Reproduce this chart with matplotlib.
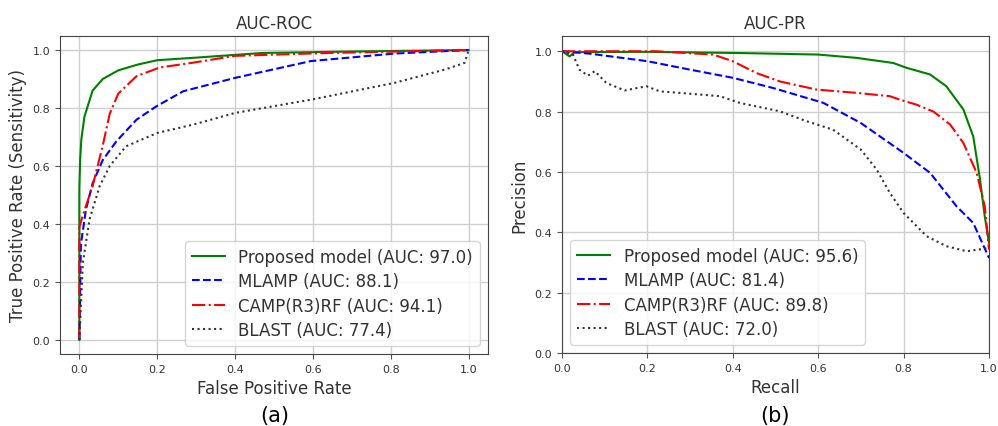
import matplotlib
matplotlib.use("Agg")
import matplotlib.pyplot as plt

# ---------------------------------------------------------------------------
# Data
# ---------------------------------------------------------------------------
LEGEND_ROC = ["Proposed model (AUC: 97.0)", "MLAMP (AUC: 88.1)",
              "CAMP(R3)RF (AUC: 94.1)", "BLAST (AUC: 77.4)"]
LEGEND_PR = ["Proposed model (AUC: 95.6)", "MLAMP (AUC: 81.4)",
             "CAMP(R3)RF (AUC: 89.8)", "BLAST (AUC: 72.0)"]

# ROC curves: false positive rate / true positive rate
roc_prop_fpr = [0.0, 0.0, 0.002, 0.005, 0.013, 0.034, 0.06, 0.10, 0.15, 0.20, 0.29, 0.47, 0.7, 1.0]
roc_prop_tpr = [0.0, 0.52, 0.62, 0.69, 0.77, 0.86, 0.90, 0.93, 0.95, 0.965, 0.973, 0.99, 0.995, 1.0]

roc_mlamp_fpr = [0.0, 0.004, 0.017, 0.034, 0.06, 0.095, 0.147, 0.198, 0.267, 0.40, 0.595, 0.81, 1.0]
roc_mlamp_tpr = [0.0, 0.33, 0.45, 0.54, 0.62, 0.685, 0.76, 0.806, 0.858, 0.904, 0.962, 0.988, 1.0]

roc_camp_fpr = [0.0, 0.0, 0.009, 0.034, 0.06, 0.078, 0.10, 0.147, 0.207, 0.29, 0.40, 0.64, 1.0]
roc_camp_tpr = [0.0, 0.39, 0.43, 0.53, 0.67, 0.78, 0.85, 0.91, 0.94, 0.956, 0.98, 0.99, 1.0]

roc_blast_fpr = [0.0, 0.009, 0.026, 0.052, 0.078, 0.12, 0.20, 0.293, 0.40, 0.60, 0.81, 0.94, 0.99, 1.0]
roc_blast_tpr = [0.0, 0.265, 0.415, 0.53, 0.60, 0.668, 0.714, 0.743, 0.783, 0.83, 0.887, 0.933, 0.956, 1.0]

# PR curves: recall / precision
pr_prop_rec = [0.0, 0.018, 0.03, 0.2, 0.42, 0.6, 0.69, 0.776, 0.807, 0.862, 0.90, 0.94, 0.963, 0.979, 0.99, 1.0]
pr_prop_pre = [1.0, 0.983, 0.997, 0.998, 0.994, 0.989, 0.978, 0.961, 0.945, 0.923, 0.884, 0.807, 0.718, 0.575, 0.453, 0.365]

pr_mlamp_rec = [0.0, 0.065, 0.2, 0.30, 0.40, 0.495, 0.612, 0.70, 0.80, 0.862, 0.924, 0.963, 1.0]
pr_mlamp_pre = [1.0, 0.992, 0.967, 0.939, 0.912, 0.878, 0.829, 0.762, 0.663, 0.597, 0.486, 0.431, 0.315]

pr_camp_rec = [0.0, 0.22, 0.354, 0.40, 0.455, 0.51, 0.596, 0.69, 0.768, 0.79, 0.83, 0.87, 0.909, 0.94, 0.971, 0.99, 1.0]
pr_camp_pre = [1.0, 1.0, 0.989, 0.967, 0.928, 0.90, 0.873, 0.862, 0.851, 0.84, 0.823, 0.80, 0.757, 0.696, 0.597, 0.486, 0.343]

pr_blast_rec = [0.0, 0.026, 0.041, 0.061, 0.077, 0.104, 0.147, 0.198, 0.229, 0.276, 0.37, 0.416, 0.51,
                0.573, 0.635, 0.70, 0.737, 0.768, 0.80, 0.854, 0.90, 0.948, 1.0]
pr_blast_pre = [1.0, 0.989, 0.939, 0.919, 0.934, 0.895, 0.87, 0.884, 0.867, 0.862, 0.851, 0.829, 0.801,
                0.768, 0.74, 0.674, 0.608, 0.53, 0.464, 0.387, 0.354, 0.337, 0.348]

STYLES = [("g", "-"), ("b", "--"), ("r", "-."), ("#333333", ":")]
TEXT_COLOR = "#333333"


def draw_panel(ax, curves, labels, loc):
    for (x, y), (color, ls), label in zip(curves, STYLES, labels):
        ax.plot(x, y, color=color, linestyle=ls, linewidth=1.5, label=label)
    ax.grid(True, color="#cfcfcf", linewidth=1)
    ax.tick_params(labelsize=8, labelcolor=TEXT_COLOR, color="#555555")
    for spine in ax.spines.values():
        spine.set_color("#444444")
    ax.set_yticks([0.0, 0.2, 0.4, 0.6, 0.8, 1.0])
    ax.set_xticks([0.0, 0.2, 0.4, 0.6, 0.8, 1.0])
    leg = ax.legend(loc=loc, fontsize=12, framealpha=0.8, labelspacing=0.38)
    for t in leg.get_texts():
        t.set_color(TEXT_COLOR)


fig = plt.figure(figsize=(9.98, 4.27), dpi=100)
ax1 = fig.add_axes([0.060, 0.169, 0.429, 0.744])
ax2 = fig.add_axes([0.563, 0.171, 0.428, 0.742])

draw_panel(ax1,
           [(roc_prop_fpr, roc_prop_tpr), (roc_mlamp_fpr, roc_mlamp_tpr),
            (roc_camp_fpr, roc_camp_tpr), (roc_blast_fpr, roc_blast_tpr)],
           LEGEND_ROC, "lower right")
ax1.set_xlim(-0.05, 1.05)
ax1.set_ylim(-0.048, 1.048)
ax1.set_title("AUC-ROC", fontsize=12, color=TEXT_COLOR)
ax1.set_xlabel("False Positive Rate", fontsize=12, color=TEXT_COLOR)
ax1.set_ylabel("True Positive Rate (Sensitivity)", fontsize=12, color=TEXT_COLOR)

draw_panel(ax2,
           [(pr_prop_rec, pr_prop_pre), (pr_mlamp_rec, pr_mlamp_pre),
            (pr_camp_rec, pr_camp_pre), (pr_blast_rec, pr_blast_pre)],
           LEGEND_PR, "lower left")
ax2.set_xlim(0.0, 1.0)
ax2.set_ylim(0.0, 1.05)
ax2.set_title("AUC-PR", fontsize=12, color=TEXT_COLOR)
ax2.set_xlabel("Recall", fontsize=12, color=TEXT_COLOR)
ax2.set_ylabel("Precision", fontsize=12, color=TEXT_COLOR)

fig.text(0.275, 0.026, "(a)", ha="center", va="center", fontsize=15)
fig.text(0.777, 0.026, "(b)", ha="center", va="center", fontsize=15)

fig.savefig("out.png", dpi=100)
plt.close(fig)
